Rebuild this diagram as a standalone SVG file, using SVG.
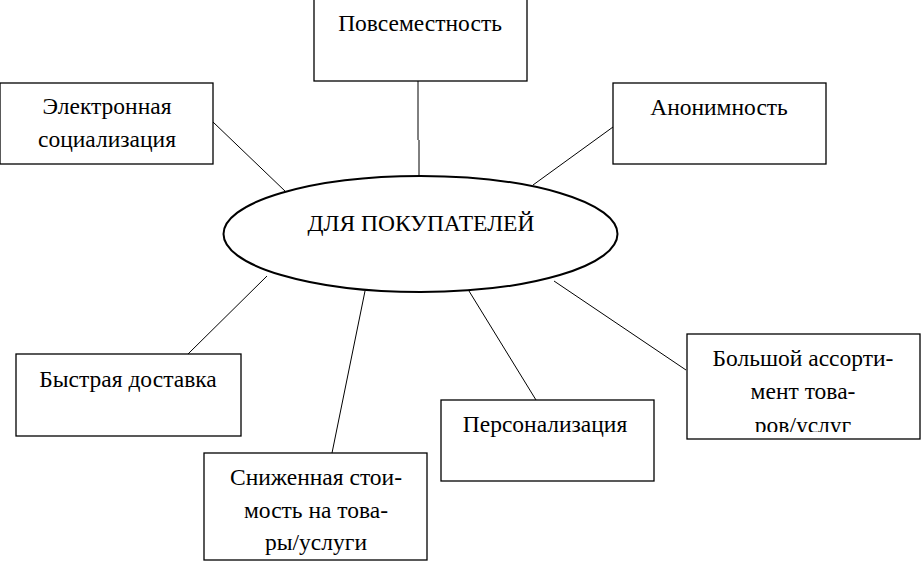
<svg xmlns="http://www.w3.org/2000/svg" width="922" height="562" viewBox="0 0 922 562">
<style>
.box{fill:#fff;stroke:#000;stroke-width:1.3}
.ell{fill:#fff;stroke:#000;stroke-width:2}
.ln{stroke:#000;stroke-width:1;fill:none}
.t{font-family:"Liberation Serif","Times New Roman",serif;font-size:23.5px;fill:#000;text-anchor:middle}
</style>
<defs>
<clipPath id="clipB"><rect x="687" y="334" width="234" height="98"/></clipPath>
</defs>
<rect width="922" height="562" fill="#fff"/>
<g id="connectors">
<line class="ln" x1="418" y1="81" x2="418" y2="140"/>
<line class="ln" x1="419" y1="140" x2="419" y2="177"/>
<line class="ln" x1="213" y1="122" x2="286" y2="192"/>
<line class="ln" x1="613" y1="127" x2="533" y2="185"/>
<line class="ln" x1="188" y1="354" x2="267" y2="276"/>
<line class="ln" x1="332" y1="453" x2="365" y2="291"/>
<line class="ln" x1="536" y1="400" x2="469" y2="291"/>
<line class="ln" x1="686" y1="370" x2="554" y2="281"/>
</g>
<g id="center">
<ellipse class="ell" cx="420.5" cy="234" rx="197" ry="58"/>
<text class="t" x="421" y="231">ДЛЯ ПОКУПАТЕЛЕЙ</text>
</g>
<g id="n-povsemestnost">
<rect class="box" x="314" y="-2" width="213" height="83"/>
<text class="t" x="420" y="31">Повсеместность</text>
</g>
<g id="n-elektronnaya">
<rect class="box" x="0" y="83" width="213" height="81"/>
<text class="t" x="107" y="114">Электронная</text>
<text class="t" x="107" y="147">социализация</text>
</g>
<g id="n-anonimnost">
<rect class="box" x="613" y="83" width="213" height="81"/>
<text class="t" x="719" y="115">Анонимность</text>
</g>
<g id="n-bystraya">
<rect class="box" x="16" y="354" width="225" height="82"/>
<text class="t" x="128" y="387">Быстрая доставка</text>
</g>
<g id="n-snizhennaya">
<rect class="box" x="204" y="453" width="223" height="107"/>
<text class="t" x="316" y="485">Сниженная стои-</text>
<text class="t" x="316" y="518">мость на това-</text>
<text class="t" x="316" y="550">ры/услуги</text>
</g>
<g id="n-personalizatsiya">
<rect class="box" x="441" y="400" width="213" height="81"/>
<text class="t" x="545" y="432">Персонализация</text>
</g>
<g id="n-bolshoy">
<rect class="box" x="687" y="334" width="233" height="105"/>
<text class="t" x="803" y="366">Большой ассорти-</text>
<text class="t" x="803" y="399">мент това-</text>
<text class="t" x="803" y="433" clip-path="url(#clipB)">ров/услуг</text>
</g>
</svg>
